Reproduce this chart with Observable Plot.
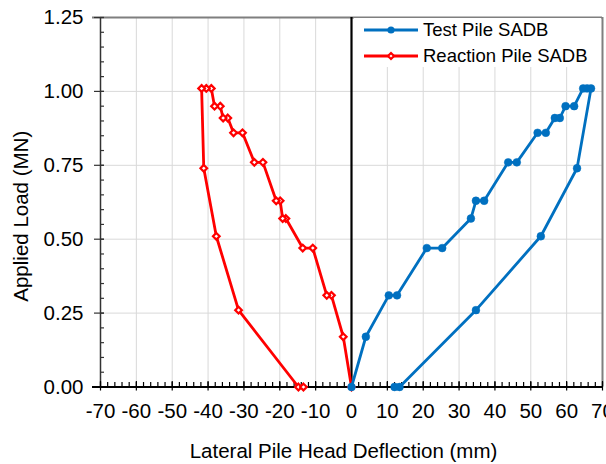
<!DOCTYPE html>
<html>
<head>
<meta charset="utf-8">
<script src="https://cdn.jsdelivr.net/npm/d3@7"></script>
<script src="https://cdn.jsdelivr.net/npm/@observablehq/plot@0.6"></script>
<style>
  html, body { margin: 0; padding: 0; background: white; }
  #wrap { position: relative; width: 606px; height: 464px; font-family: "Liberation Sans", Arial, sans-serif; }
  #legend { position: absolute; left: 354px; top: 18px; width: 247px; height: 49px; background: white; }
  .item { position: absolute; left: 0; height: 20px; display: flex; align-items: center; font-size: 18.5px; color: #000; white-space: nowrap; }
  .item svg { margin-left: 10px; margin-right: 5px; }
</style>
</head>
<body>
<div id="wrap"></div>
<script>
// ---- data ----
const testX = [0, 4.0, 10.4, 12.7, 21.0, 25.3, 33.3, 34.7, 37.0, 43.7, 46.1, 51.9, 54.2, 56.7, 58.1, 59.7, 62.1, 64.6, 65.7, 66.8, 62.9, 52.8, 34.7, 13.4, 12.0];
const testY = [0, 0.17, 0.31, 0.31, 0.47, 0.47, 0.57, 0.63, 0.63, 0.76, 0.76, 0.86, 0.86, 0.91, 0.91, 0.95, 0.95, 1.01, 1.01, 1.01, 0.74, 0.51, 0.26, 0, 0];
const reactX = [0, -2.3, -5.6, -6.9, -10.8, -13.6, -18.3, -19.2, -19.9, -21.0, -24.7, -27.1, -30.4, -32.9, -34.5, -35.8, -36.6, -38.2, -39.1, -40.5, -41.8, -41.2, -37.7, -31.5, -14.8, -13.4];
const reactY = [0, 0.17, 0.31, 0.31, 0.47, 0.47, 0.57, 0.57, 0.63, 0.63, 0.76, 0.76, 0.86, 0.86, 0.91, 0.91, 0.95, 0.95, 1.01, 1.01, 1.01, 0.74, 0.51, 0.26, 0, 0];
const seriesNames = ["Test Pile SADB", "Reaction Pile SADB"];
const seriesColors = ["#0070C0", "#FF0000"];
const xTicks = [-70, -60, -50, -40, -30, -20, -10, 0, 10, 20, 30, 40, 50, 60, 70];
const yTicks = [0, 0.25, 0.5, 0.75, 1.0, 1.25];
const xMinor = d3.range(-70, 70.001, 2);
const yMinor = d3.range(0, 1.2501, 0.05).map(v => +v.toFixed(2));
const xTitle = "Lateral Pile Head Deflection (mm)";
const yTitle = "Applied Load (MN)";

const test = testX.map((x, i) => ({x, y: testY[i]}));
const react = reactX.map((x, i) => ({x, y: reactY[i]}));

const chart = Plot.plot({
  width: 606,
  height: 464,
  marginLeft: 100,
  marginRight: 4,
  marginTop: 17,
  marginBottom: 77.5,
  style: {fontFamily: '"Liberation Sans", Arial, sans-serif', fontSize: "20.5px", color: "#000", background: "white", overflow: "visible"},
  x: {domain: [-70, 70], ticks: xTicks, tickSize: 0, tickPadding: 16, tickFormat: d => String(d), label: null},
  y: {domain: [0, 1.25], ticks: yTicks, tickSize: 0, tickPadding: 17, tickFormat: d3.format(".2f"), label: null},
  marks: [
    Plot.gridX(xTicks.filter(d => d !== 0 && d !== -70 && d !== 70), {stroke: "#d9d9d9", strokeOpacity: 1, strokeWidth: 1}),
    Plot.gridY(yTicks.filter(d => d !== 0 && d !== 1.25), {stroke: "#d9d9d9", strokeOpacity: 1, strokeWidth: 1}),
    // frame top & right
    Plot.ruleY([1.25], {stroke: "#7f7f7f", strokeWidth: 2, insetLeft: -8}),
    Plot.ruleX([70], {stroke: "#7f7f7f", strokeWidth: 2}),
    // left axis line
    Plot.ruleX([-70], {stroke: "#333", strokeWidth: 1.5}),
    // y minor & major ticks
    Plot.ruleY(yMinor, {x1: -70, x2: -70, insetRight: -4, stroke: "#333", strokeWidth: 1.2}),
    Plot.ruleY(yTicks, {x1: -70, x2: -70, insetLeft: -6, insetRight: -4, stroke: "#333", strokeWidth: 1.2}),
    // x minor & major ticks
    Plot.ruleX(xMinor, {y1: 0, y2: 0, insetTop: -4.5, stroke: "#000", strokeWidth: 1.2}),
    Plot.ruleX(xTicks, {y1: 0, y2: 0, insetTop: -5.5, insetBottom: -4, stroke: "#000", strokeWidth: 1.2}),
    // zero lines
    Plot.ruleX([0], {stroke: "#000", strokeWidth: 2.2}),
    Plot.ruleY([0], {stroke: "#000", strokeWidth: 2.2, insetLeft: -8}),
    // series
    Plot.line(react, {x: "x", y: "y", stroke: seriesColors[1], strokeWidth: 2.8, curve: "linear"}),
    Plot.dot(react, {x: "x", y: "y", symbol: "diamond2", r: 3.0, fill: "white", stroke: seriesColors[1], strokeWidth: 2.2}),
    Plot.line(test, {x: "x", y: "y", stroke: seriesColors[0], strokeWidth: 2.8, curve: "linear"}),
    Plot.dot(test, {x: "x", y: "y", r: 3.9, fill: seriesColors[0], stroke: seriesColors[0], strokeWidth: 0.5}),
    // axis titles
    Plot.text([xTitle], {text: d => d, frameAnchor: "bottom", textAnchor: "middle", dy: 64, dx: -8, fontSize: 20.5, lineAnchor: "middle", fill: "#000"}),
    Plot.text([yTitle], {text: d => d, frameAnchor: "left", textAnchor: "middle", dx: -79, dy: 14, rotate: -90, fontSize: 20.5, lineAnchor: "middle", fill: "#000"})
  ]
});

const wrap = document.getElementById("wrap");
wrap.appendChild(chart);

// legend
const legend = document.createElement("div");
legend.id = "legend";
const rows = [{top: 2}, {top: 28}];
seriesNames.forEach((name, i) => {
  const item = document.createElement("div");
  item.className = "item";
  item.style.top = rows[i].top + "px";
  const svgNS = "http://www.w3.org/2000/svg";
  const s = document.createElementNS(svgNS, "svg");
  s.setAttribute("width", 54); s.setAttribute("height", 20);
  const ln = document.createElementNS(svgNS, "line");
  ln.setAttribute("x1", 0); ln.setAttribute("x2", 54); ln.setAttribute("y1", 10); ln.setAttribute("y2", 10);
  ln.setAttribute("stroke", seriesColors[i]); ln.setAttribute("stroke-width", 2.8);
  s.appendChild(ln);
  if (i === 0) {
    const c = document.createElementNS(svgNS, "circle");
    c.setAttribute("cx", 27); c.setAttribute("cy", 10); c.setAttribute("r", 3.6);
    c.setAttribute("fill", seriesColors[0]);
    s.appendChild(c);
  } else {
    const p = document.createElementNS(svgNS, "path");
    p.setAttribute("d", "M27,7L30,10L27,13L24,10Z");
    p.setAttribute("fill", "white"); p.setAttribute("stroke", seriesColors[1]); p.setAttribute("stroke-width", 2.2);
    s.appendChild(p);
  }
  item.appendChild(s);
  const t = document.createElement("span");
  t.textContent = name;
  item.appendChild(t);
  legend.appendChild(item);
});
wrap.appendChild(legend);
</script>
</body>
</html>
